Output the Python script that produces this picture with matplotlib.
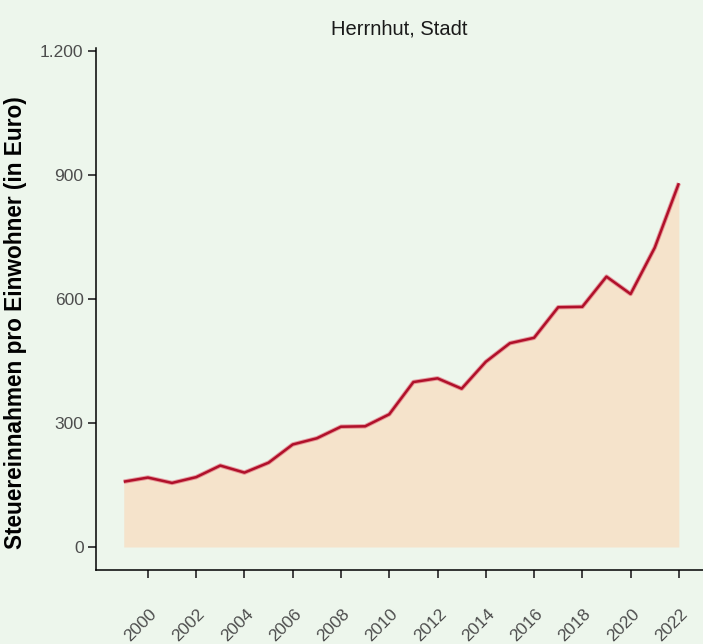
import matplotlib
matplotlib.use('Agg')
import matplotlib.pyplot as plt
from matplotlib.transforms import ScaledTranslation
from matplotlib.ticker import FuncFormatter

# tax revenue per inhabitant, Herrnhut
years = list(range(1999, 2023))
values = [158, 168, 155, 169, 197, 180, 204, 248, 263, 291, 292, 321,
          399, 408, 383, 448, 493, 506, 580, 581, 654, 612, 724, 880]
ytick_vals = [0, 300, 600, 900, 1200]
xtick_vals = list(range(2000, 2023, 2))

bg = '#EDF6EC'
plt.rcParams['font.family'] = ['Liberation Sans', 'DejaVu Sans']

fig = plt.figure(figsize=(7.03, 6.44), dpi=100, facecolor=bg)
ax = fig.add_axes([96 / 703, 74 / 644, (703 - 96) / 703, (570 - 48) / 644])
ax.set_facecolor(bg)

ax.fill_between(years, 0, values, color='#F5E3CB', lw=0)
ax.plot(years, values, color='#E06070', lw=3.2, alpha=0.6, solid_capstyle='butt')
ax.plot(years, values, color='#B0102A', lw=1.8, solid_capstyle='butt')

ax.set_xlim(1997.85, 2023.0)
ax.set_ylim(-55.6, 1207)
ax.set_yticks(ytick_vals)
ax.yaxis.set_major_formatter(FuncFormatter(lambda v, p: f'{int(v):,}'.replace(',', '.')))
ax.set_xticks(xtick_vals)
ax.set_xticklabels([str(y) for y in xtick_vals], rotation=45, ha='right', va='top',
                   rotation_mode='anchor')

for s in ['top', 'right']:
    ax.spines[s].set_visible(False)
for s in ['left', 'bottom']:
    ax.spines[s].set_color('black')
    ax.spines[s].set_linewidth(1.1)

ax.tick_params(axis='both', colors='#333333', length=6, width=1.3, labelcolor='#4D4D4D',
               labelsize=12.5)
ax.tick_params(axis='y', pad=3)
ax.tick_params(axis='x', pad=20)
for lab in ax.get_xticklabels():
    lab.set_transform(lab.get_transform() + ScaledTranslation(1 / 100, 0, fig.dpi_scale_trans))

ax.set_title('Herrnhut, Stadt', fontsize=14.5, color='#1A1A1A', pad=10)
fig.text(16 / 703, 1 - 323 / 644, 'Steuereinnahmen pro Einwohner (in Euro)', rotation=90,
         ha='center', va='center', fontsize=16.3, fontweight='bold', color='black')

fig.savefig('out.png', dpi=100, facecolor=bg)
